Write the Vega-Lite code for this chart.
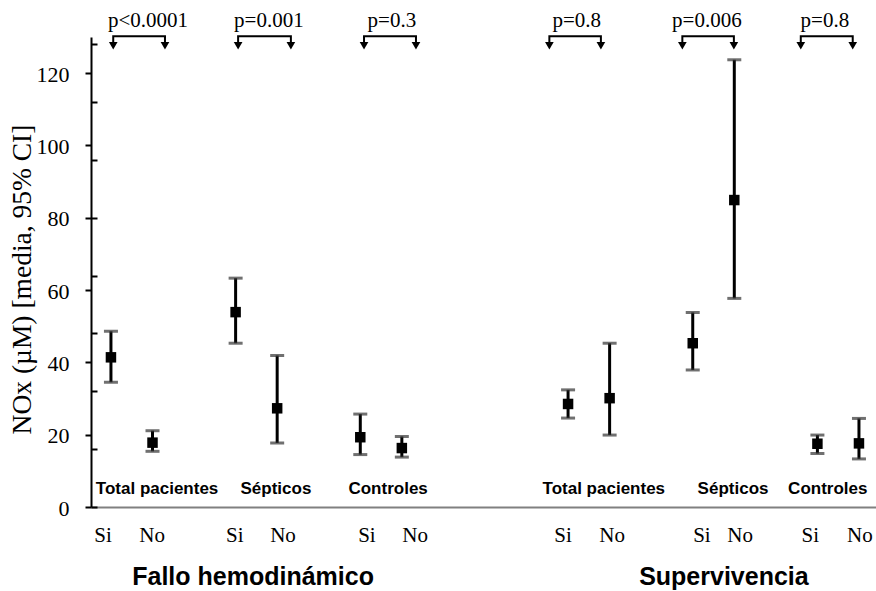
{
  "$schema": "https://vega.github.io/schema/vega-lite/v6.json",
  "width": 785,
  "height": 470,
  "autosize": {"type": "none"},
  "padding": {"left": 91, "top": 37, "right": 0, "bottom": 84},
  "background": "white",
  "config": {"view": {"stroke": null}},
  "datasets": {
    "points": [
      {"pos": 1, "mean": 41.4, "lo": 34.5, "hi": 48.6},
      {"pos": 2, "mean": 17.8, "lo": 15.4, "hi": 21.1},
      {"pos": 4, "mean": 53.9, "lo": 45.3, "hi": 63.3},
      {"pos": 5, "mean": 27.3, "lo": 17.7, "hi": 41.9},
      {"pos": 7, "mean": 19.3, "lo": 14.5, "hi": 25.7},
      {"pos": 8, "mean": 16.3, "lo": 13.8, "hi": 19.5},
      {"pos": 12, "mean": 28.5, "lo": 24.6, "hi": 32.4},
      {"pos": 13, "mean": 30.1, "lo": 19.9, "hi": 45.3},
      {"pos": 15, "mean": 45.3, "lo": 37.9, "hi": 53.8},
      {"pos": 16, "mean": 84.9, "lo": 57.7, "hi": 123.7},
      {"pos": 18, "mean": 17.5, "lo": 14.8, "hi": 19.9},
      {"pos": 19, "mean": 17.6, "lo": 13.3, "hi": 24.5}
    ],
    "sino": [
      {"pos": 0.81, "y": -9.8, "t": "Si"},
      {"pos": 1.99, "y": -9.8, "t": "No"},
      {"pos": 3.98, "y": -9.8, "t": "Si"},
      {"pos": 5.14, "y": -9.8, "t": "No"},
      {"pos": 7.16, "y": -9.8, "t": "Si"},
      {"pos": 8.32, "y": -9.8, "t": "No"},
      {"pos": 11.88, "y": -9.8, "t": "Si"},
      {"pos": 13.06, "y": -9.8, "t": "No"},
      {"pos": 15.22, "y": -9.8, "t": "Si"},
      {"pos": 16.14, "y": -9.8, "t": "No"},
      {"pos": 17.83, "y": -9.8, "t": "Si"},
      {"pos": 19.02, "y": -9.8, "t": "No"}
    ],
    "groups": [
      {"pos": 2.11, "y": 3.6, "t": "Total pacientes"},
      {"pos": 4.97, "y": 3.6, "t": "Sépticos"},
      {"pos": 7.67, "y": 3.6, "t": "Controles"},
      {"pos": 12.86, "y": 3.6, "t": "Total pacientes"},
      {"pos": 15.97, "y": 3.6, "t": "Sépticos"},
      {"pos": 18.25, "y": 3.6, "t": "Controles"}
    ],
    "titles": [
      {"pos": 4.42, "y": -21.6, "t": "Fallo hemodinámico"},
      {"pos": 15.75, "y": -21.6, "t": "Supervivencia"}
    ],
    "pvals": [
      {"pos": 1.89, "y": 132.8, "t": "p<0.0001"},
      {"pos": 4.8, "y": 132.8, "t": "p=0.001"},
      {"pos": 7.76, "y": 132.8, "t": "p=0.3"},
      {"pos": 12.21, "y": 132.8, "t": "p=0.8"},
      {"pos": 15.34, "y": 132.8, "t": "p=0.006"},
      {"pos": 18.18, "y": 132.8, "t": "p=0.8"}
    ],
    "brackets": [
      {"b": 1, "o": 0, "pos": 1.055, "y": 128.4, "end": true},
      {"b": 1, "o": 1, "pos": 1.055, "y": 130.2, "end": false},
      {"b": 1, "o": 2, "pos": 2.3, "y": 130.2, "end": false},
      {"b": 1, "o": 3, "pos": 2.3, "y": 128.4, "end": true},
      {"b": 2, "o": 0, "pos": 4.06, "y": 128.4, "end": true},
      {"b": 2, "o": 1, "pos": 4.06, "y": 130.2, "end": false},
      {"b": 2, "o": 2, "pos": 5.33, "y": 130.2, "end": false},
      {"b": 2, "o": 3, "pos": 5.33, "y": 128.4, "end": true},
      {"b": 3, "o": 0, "pos": 7.09, "y": 128.4, "end": true},
      {"b": 3, "o": 1, "pos": 7.09, "y": 130.2, "end": false},
      {"b": 3, "o": 2, "pos": 8.34, "y": 130.2, "end": false},
      {"b": 3, "o": 3, "pos": 8.34, "y": 128.4, "end": true},
      {"b": 4, "o": 0, "pos": 11.55, "y": 128.4, "end": true},
      {"b": 4, "o": 1, "pos": 11.55, "y": 130.2, "end": false},
      {"b": 4, "o": 2, "pos": 12.79, "y": 130.2, "end": false},
      {"b": 4, "o": 3, "pos": 12.79, "y": 128.4, "end": true},
      {"b": 5, "o": 0, "pos": 14.75, "y": 128.4, "end": true},
      {"b": 5, "o": 1, "pos": 14.75, "y": 130.2, "end": false},
      {"b": 5, "o": 2, "pos": 15.99, "y": 130.2, "end": false},
      {"b": 5, "o": 3, "pos": 15.99, "y": 128.4, "end": true},
      {"b": 6, "o": 0, "pos": 17.6, "y": 128.4, "end": true},
      {"b": 6, "o": 1, "pos": 17.6, "y": 130.2, "end": false},
      {"b": 6, "o": 2, "pos": 18.85, "y": 130.2, "end": false},
      {"b": 6, "o": 3, "pos": 18.85, "y": 128.4, "end": true}
    ]
  },
  "encoding": {
    "x": {
      "field": "pos",
      "type": "quantitative",
      "scale": {"domain": [0.52, 19.41], "nice": false, "zero": false},
      "axis": {"domain": true, "domainColor": "#808080", "domainWidth": 2, "ticks": false, "labels": false, "grid": false, "title": null}
    }
  },
  "layer": [
    {
      "data": {"name": "points"},
      "layer": [
        {
          "mark": {"type": "rule", "color": "black", "strokeWidth": 3},
          "encoding": {
            "y": {
              "field": "lo",
              "type": "quantitative",
              "scale": {"domain": [0, 130], "nice": false, "zero": false},
              "axis": {
                "orient": "left",
                "values": [0, 4, 8, 12, 16, 20, 24, 28, 32, 36, 40, 44, 48, 52, 56, 60, 64, 68, 72, 76, 80, 84, 88, 92, 96, 100, 104, 108, 112, 116, 120, 124, 128],
                "tickSize": -6,
                "tickWidth": 2,
                "tickColor": "black",
                "domain": true,
                "domainColor": "black",
                "domainWidth": 2,
                "labels": false,
                "grid": false,
                "title": "NOx (µM) [media, 95% CI]",
                "titleFont": "Liberation Serif",
                "titleFontSize": 27.5,
                "titleFontWeight": "normal",
                "titleColor": "black",
                "titleAngle": -90,
                "titleAlign": "center",
                "titleBaseline": "alphabetic",
                "titleX": -61,
                "titleY": 242
              }
            },
            "y2": {"field": "hi"}
          }
        },
        {
          "mark": {"type": "tick", "orient": "horizontal", "color": "#333333", "thickness": 3, "size": 14},
          "encoding": {"y": {"field": "lo", "type": "quantitative", "scale": {"domain": [0, 130], "nice": false, "zero": false}}}
        },
        {
          "mark": {"type": "tick", "orient": "horizontal", "color": "#333333", "thickness": 3, "size": 14},
          "encoding": {"y": {"field": "hi", "type": "quantitative", "scale": {"domain": [0, 130], "nice": false, "zero": false}}}
        },
        {
          "mark": {"type": "point", "shape": "square", "filled": true, "color": "black", "size": 110, "opacity": 1},
          "encoding": {"y": {"field": "mean", "type": "quantitative", "scale": {"domain": [0, 130], "nice": false, "zero": false}}}
        }
      ]
    },
    {
      "layer": [
        {
          "data": {"name": "brackets"},
          "mark": {"type": "line", "color": "black", "strokeWidth": 2},
          "encoding": {
            "y": {
              "field": "y",
              "type": "quantitative",
              "scale": {"domain": [0, 130], "nice": false, "zero": false},
              "axis": {
                "orient": "left",
                "values": [0, 20, 40, 60, 80, 100, 120],
                "tickSize": 6,
                "tickWidth": 2,
                "tickColor": "black",
                "domain": false,
                "grid": false,
                "labelFont": "Liberation Serif",
                "labelFontSize": 22,
                "labelColor": "black",
                "labelPadding": 16,
                "labelOffset": 1,
                "title": null
              }
            },
            "detail": {"field": "b"},
            "order": {"field": "o"}
          }
        },
        {
          "data": {"name": "brackets"},
          "transform": [{"filter": "datum.end"}],
          "mark": {"type": "point", "shape": "triangle-down", "filled": true, "color": "black", "size": 75, "yOffset": 3, "opacity": 1},
          "encoding": {"y": {"field": "y", "type": "quantitative", "scale": {"domain": [0, 130], "nice": false, "zero": false}}}
        },
        {
          "data": {"name": "pvals"},
          "mark": {"type": "text", "font": "Liberation Serif", "fontSize": 21, "align": "center", "baseline": "alphabetic", "color": "black"},
          "encoding": {"y": {"field": "y", "type": "quantitative", "scale": {"domain": [0, 130], "nice": false, "zero": false}}, "text": {"field": "t"}}
        },
        {
          "data": {"name": "sino"},
          "mark": {"type": "text", "font": "Liberation Serif", "fontSize": 21, "align": "center", "baseline": "alphabetic", "color": "black"},
          "encoding": {"y": {"field": "y", "type": "quantitative", "scale": {"domain": [0, 130], "nice": false, "zero": false}}, "text": {"field": "t"}}
        },
        {
          "data": {"name": "groups"},
          "mark": {"type": "text", "font": "Liberation Sans", "fontSize": 17, "fontWeight": "bold", "align": "center", "baseline": "alphabetic", "color": "black"},
          "encoding": {"y": {"field": "y", "type": "quantitative", "scale": {"domain": [0, 130], "nice": false, "zero": false}}, "text": {"field": "t"}}
        },
        {
          "data": {"name": "titles"},
          "mark": {"type": "text", "font": "Liberation Sans", "fontSize": 25, "fontWeight": "bold", "align": "center", "baseline": "alphabetic", "color": "black"},
          "encoding": {"y": {"field": "y", "type": "quantitative", "scale": {"domain": [0, 130], "nice": false, "zero": false}}, "text": {"field": "t"}}
        }
      ]
    }
  ],
  "resolve": {"scale": {"y": "independent"}, "axis": {"y": "independent"}}
}
